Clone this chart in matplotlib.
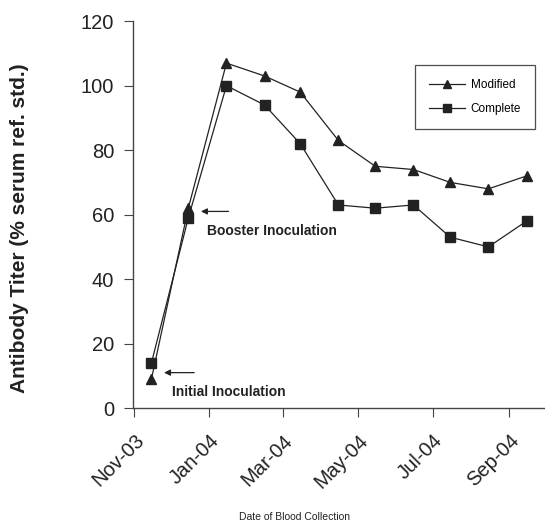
import numpy as np
import pandas as pd
import matplotlib
matplotlib.use('Agg')
import matplotlib.pyplot as plt
import matplotlib.dates as mdates

plt.rcParams['font.family'] = ['Liberation Sans', 'DejaVu Sans']

# blood collection dates (mid-month) and titers
dates = pd.to_datetime(['2003-11-15', '2003-12-15', '2004-01-15', '2004-02-15',
                        '2004-03-15', '2004-04-15', '2004-05-15', '2004-06-15',
                        '2004-07-15', '2004-08-15', '2004-09-15'])
modified = [9, 62, 107, 103, 98, 83, 75, 74, 70, 68, 72]
complete = [14, 59, 100, 94, 82, 63, 62, 63, 53, 50, 58]

ink = '#222222'

fig = plt.figure(figsize=(5.45, 5.30), dpi=100)
ax = fig.add_axes([0.244, 0.230, 0.756, 0.730])

ax.plot(dates, modified, color=ink, lw=0.9, marker='^', ms=7, label='Modified')
ax.plot(dates, complete, color=ink, lw=0.9, marker='s', ms=7.5, label='Complete')

ax.set_ylim(0, 120)
ax.set_yticks(range(0, 121, 20))
ax.set_xlim(pd.Timestamp('2003-10-31'), pd.Timestamp('2004-09-30'))
ax.xaxis.set_major_locator(mdates.MonthLocator(bymonth=[1, 3, 5, 7, 9, 11]))
ax.xaxis.set_major_formatter(mdates.DateFormatter('%b-%y'))

for s in ['top', 'right']:
    ax.spines[s].set_visible(False)
for s in ['left', 'bottom']:
    ax.spines[s].set_color('#444444')
    ax.spines[s].set_linewidth(1.0)
ax.tick_params(direction='out', length=6.5, width=0.8, color='#444444',
               labelsize=14.5, labelcolor=ink)
ax.tick_params(axis='y', pad=7)
ax.tick_params(axis='x', pad=10)
plt.setp(ax.get_xticklabels(), rotation=45, ha='right', rotation_mode='anchor')

ax.set_ylabel('Antibody Titer (% serum ref. std.)', fontsize=15,
              fontweight='bold', color=ink)
ax.yaxis.set_label_coords(-0.252, 0.465)
fig.text(0.54, 0.018, 'Date of Blood Collection', fontsize=7.5, color=ink, ha='center')

leg = ax.legend(loc='upper right', bbox_to_anchor=(0.976, 0.886), borderaxespad=0,
                fontsize=8.5, frameon=True, fancybox=False, edgecolor=ink,
                handlelength=3.0, handletextpad=0.5, labelspacing=1.0,
                borderpad=1.2, markerscale=0.75)
leg.get_frame().set_linewidth(0.9)

# annotations
arrow = dict(arrowstyle='-|>', lw=0.9, color=ink, mutation_scale=9)
ax.annotate('', xy=(pd.Timestamp('2003-12-23'), 61),
            xytext=(pd.Timestamp('2004-01-19'), 61), arrowprops=arrow)
ax.text(pd.Timestamp('2003-12-30'), 55, 'Booster Inoculation', fontsize=10,
        color=ink, va='center', fontweight='bold')
ax.annotate('', xy=(pd.Timestamp('2003-11-23'), 11),
            xytext=(pd.Timestamp('2003-12-22'), 11), arrowprops=arrow)
ax.text(pd.Timestamp('2003-12-02'), 5, 'Initial Inoculation', fontsize=10,
        color=ink, va='center', fontweight='bold')

fig.savefig('out.png', dpi=100)
